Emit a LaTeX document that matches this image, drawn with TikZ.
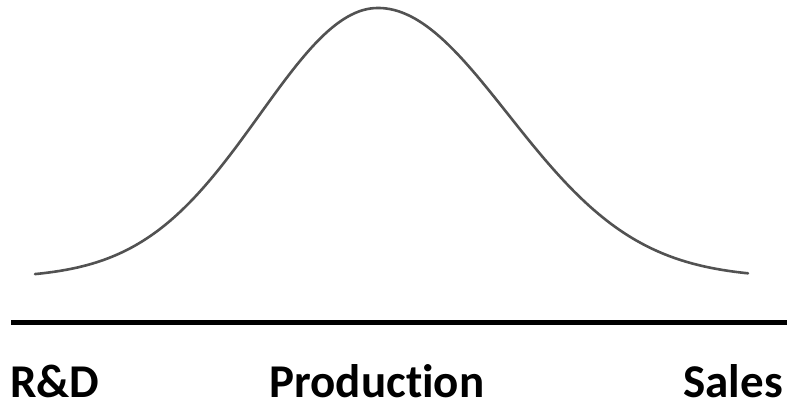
\documentclass[tikz,border=0pt]{standalone}
\usepackage{fontspec}
\setmainfont[Ligatures={NoCommon,NoRare}]{Carlito}
\begin{document}
\begin{tikzpicture}[x=1pt,y=-1pt,
  curve/.style={draw=black!68, line width=2.6pt, line cap=round},
  axis/.style={draw=black, line width=5pt},
  lbl/.style={font=\fontsize{47}{52}\selectfont\bfseries, inner sep=0pt, text=black}]
\useasboundingbox (0,0) rectangle (787,408);
\coordinate (axL) at (11,322.5);
\coordinate (axR) at (787,322.5);
\draw[curve] plot[domain=35:378, samples=90] (\x, {278-270*exp(-0.5*((\x-378)/118)^2)})
  -- plot[domain=378:748, samples=90] (\x, {278-270*exp(-0.5*((\x-378)/130)^2)});
\draw[axis] (axL) -- (axR);
\node[lbl, anchor=base west] (rd) at (10,397) {R\&D};
\node[lbl, anchor=base] (prod) at (377,397) {Production};
\node[lbl, anchor=base east] (sales) at (783,397) {Sales};
\end{tikzpicture}
\end{document}
